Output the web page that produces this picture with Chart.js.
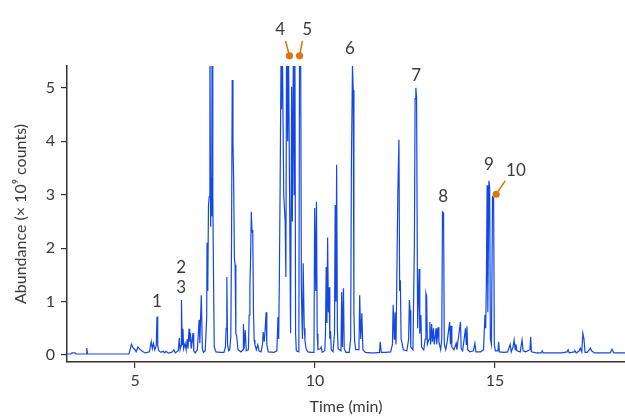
<!DOCTYPE html>
<html>
<head>
<meta charset="utf-8">
<script src="https://cdn.jsdelivr.net/npm/chart.js@4"></script>
<style>
html,body{margin:0;padding:0;background:#fff;}
#wrap{position:relative;width:625px;height:416px;}
</style>
</head>
<body>
<div id="wrap"><canvas id="c" width="625" height="416"></canvas></div>
<script>
// Retention time (min)
const times = [
3.11,3.22,3.25,3.33,3.36,3.64,3.66,3.68,4.83,4.87,4.90,4.94,5.00,5.03,5.08,5.13,5.20,5.28,5.40,5.45,
5.48,5.51,5.55,5.59,5.61,5.63,5.66,5.72,5.78,5.82,5.86,5.92,5.97,6.04,6.08,6.12,6.20,6.23,6.25,6.28,
6.29,6.31,6.33,6.35,6.39,6.42,6.45,6.47,6.50,6.52,6.54,6.56,6.61,6.63,6.67,6.73,6.78,6.80,6.84,6.87,
6.90,6.95,6.99,7.00,7.02,7.04,7.06,7.08,7.10,7.11,7.13,7.14,7.16,7.18,7.20,7.25,7.36,7.47,7.51,7.53,
7.55,7.57,7.60,7.63,7.66,7.68,7.70,7.72,7.74,7.76,7.78,7.80,7.82,7.86,7.94,8.00,8.01,8.03,8.06,8.09,
8.15,8.17,8.19,8.21,8.23,8.25,8.27,8.29,8.31,8.33,8.37,8.41,8.44,8.50,8.54,8.56,8.59,8.62,8.64,8.66,
8.70,8.86,8.94,8.97,8.99,9.01,9.03,9.06,9.07,9.09,9.13,9.17,9.19,9.21,9.24,9.26,9.29,9.32,9.35,9.37,
9.40,9.42,9.44,9.46,9.48,9.55,9.57,9.60,9.62,9.65,9.67,9.70,9.72,9.75,9.80,9.90,9.97,9.99,10.02,10.04,
10.06,10.08,10.15,10.17,10.20,10.27,10.29,10.31,10.33,10.35,10.37,10.39,10.41,10.43,10.45,10.50,10.54,10.56,10.58,10.60,
10.62,10.64,10.72,10.74,10.76,10.79,10.81,10.86,10.95,10.99,11.01,11.04,11.06,11.08,11.10,11.13,11.22,11.24,11.27,11.30,
11.33,11.40,11.53,11.67,11.79,11.81,11.84,11.95,12.10,12.15,12.17,12.20,12.22,12.25,12.30,12.33,12.35,12.37,12.39,12.42,
12.45,12.55,12.60,12.62,12.64,12.66,12.72,12.76,12.78,12.80,12.82,12.85,12.89,12.91,12.94,12.96,13.02,13.06,13.08,13.10,
13.12,13.17,13.19,13.21,13.24,13.26,13.29,13.31,13.34,13.36,13.38,13.42,13.44,13.49,13.52,13.54,13.57,13.59,13.63,13.67,
13.74,13.76,13.78,13.80,13.86,13.92,13.94,14.04,14.06,14.10,14.18,14.20,14.22,14.24,14.30,14.40,14.44,14.47,14.60,14.68,
14.72,14.74,14.76,14.78,14.80,14.83,14.85,14.87,14.90,14.93,14.96,14.98,15.01,15.08,15.10,15.12,15.25,15.35,15.42,15.45,
15.50,15.53,15.56,15.58,15.61,15.70,15.75,15.78,15.85,15.97,15.99,16.01,16.15,16.28,16.31,16.34,16.55,16.70,16.85,17.00,
17.03,17.06,17.20,17.22,17.26,17.34,17.37,17.41,17.44,17.47,17.50,17.56,17.62,17.65,17.68,17.72,17.76,17.90,18.20,18.25,
18.30,18.61
];
// Abundance (x 10^9 counts)
const abundance = [
0.02,0.02,0.04,0.04,0.02,0.02,0.13,0.02,0.02,0.12,0.20,0.14,0.10,0.06,0.15,0.11,0.07,0.04,0.06,0.25,
0.12,0.22,0.10,0.18,0.72,0.18,0.08,0.05,0.07,0.04,0.07,0.04,0.04,0.06,0.10,0.04,0.08,0.32,0.10,0.18,
1.03,0.20,0.49,0.12,0.22,0.10,0.30,0.12,0.49,0.25,0.41,0.12,0.41,0.08,0.04,0.10,0.66,0.22,1.12,0.12,
0.05,0.08,0.70,2.10,1.20,2.80,2.96,6.00,2.40,3.33,2.60,6.00,3.00,1.46,0.15,0.06,0.05,0.05,0.15,0.50,
1.46,0.20,0.08,0.10,0.35,2.10,5.15,4.00,3.22,1.80,1.69,0.40,0.37,0.10,0.06,0.10,0.58,0.12,0.47,0.08,
0.10,0.75,1.27,1.83,2.68,2.30,2.34,0.80,0.28,0.20,0.10,0.19,0.08,0.06,0.20,0.43,0.25,0.55,0.80,0.20,
0.06,0.05,0.08,0.71,0.30,1.50,3.15,6.00,4.60,6.00,3.00,2.50,1.46,6.00,4.00,6.00,3.24,0.41,5.02,2.50,
6.00,3.00,6.00,0.40,0.08,0.06,6.00,6.00,1.22,0.30,1.72,0.50,0.28,0.12,0.06,0.05,0.05,2.75,1.20,2.87,
0.40,0.10,0.12,0.15,0.05,0.08,0.40,1.65,0.60,2.20,0.80,1.27,0.30,0.45,0.10,0.06,0.40,2.81,1.00,3.56,
0.50,0.12,0.08,1.18,0.15,1.25,0.12,0.05,0.05,0.30,3.60,5.42,4.96,0.78,0.25,0.10,0.10,1.12,0.30,0.78,
0.10,0.05,0.04,0.04,0.05,0.25,0.05,0.05,0.06,0.20,0.94,0.30,0.80,0.20,3.05,4.03,1.20,1.40,0.30,0.22,
0.10,0.08,0.30,1.03,0.84,0.15,0.10,2.12,4.80,5.00,4.83,0.50,1.61,0.40,0.75,0.15,0.10,0.30,1.16,1.10,
0.20,0.30,0.62,0.20,0.58,0.25,0.50,0.20,0.35,0.50,0.20,0.52,0.25,0.10,0.30,2.68,2.66,0.20,0.10,0.25,
0.62,0.20,0.55,0.15,0.10,0.22,0.10,0.62,0.12,0.08,0.50,0.20,0.54,0.10,0.06,0.08,0.22,0.06,0.06,0.10,
0.75,0.50,1.40,3.18,0.80,3.26,3.13,0.30,0.20,2.96,2.94,0.20,0.08,0.08,0.25,0.06,0.05,0.06,0.20,0.06,
0.15,0.28,0.10,0.20,0.08,0.06,0.28,0.08,0.06,0.10,0.34,0.06,0.04,0.04,0.08,0.04,0.04,0.04,0.04,0.06,
0.10,0.04,0.06,0.08,0.04,0.08,0.13,0.06,0.41,0.30,0.05,0.05,0.10,0.13,0.08,0.06,0.04,0.04,0.04,0.11,
0.04,0.04
];
// Peak labels
const peakLabels = ['1','2','3','4','5','6','7','8','9','10'];
const peakLabelTimes = [5.61,6.28,6.28,9.03,9.78,10.97,12.81,13.56,14.83,15.58];
const peakLabelLevels = [1.01,1.63,1.27,6.09,6.09,5.73,5.24,2.96,3.56,3.45];
// Marked (off-scale / overlapping) peaks
const markerTimes = [9.29,9.57,15.03];
const markerLevels = [5.60,5.60,3.01];
const leaderFromTimes = [9.18,9.65,15.28];
const leaderFromLevels = [5.88,5.88,3.26];
const xTicks = [5,10,15];
const yTicks = [0,1,2,3,4,5];

const FONT = 'Lato, "Noto Sans", sans-serif';
const TXT = '#3a3a3a';
const BLUE = '#1447e6';
const ORANGE = '#dc7611';

const lineData = times.map((t,i)=>({x:t,y:abundance[i]}));
const markerData = markerTimes.map((t,i)=>({x:t,y:markerLevels[i]}));

const annot = {
  id:'annot',
  afterDatasetsDraw(chart){
    const {ctx, scales:{x,y}} = chart;
    ctx.save();
    // leader lines
    ctx.strokeStyle = ORANGE; ctx.lineWidth = 1.6;
    for(let i=0;i<markerTimes.length;i++){
      ctx.beginPath();
      ctx.moveTo(x.getPixelForValue(leaderFromTimes[i]), y.getPixelForValue(leaderFromLevels[i]));
      ctx.lineTo(x.getPixelForValue(markerTimes[i]), y.getPixelForValue(markerLevels[i]));
      ctx.stroke();
    }
    ctx.fillStyle = ORANGE;
    for(let i=0;i<markerTimes.length;i++){
      ctx.beginPath();
      ctx.arc(x.getPixelForValue(markerTimes[i]), y.getPixelForValue(markerLevels[i]), 3.6, 0, Math.PI*2);
      ctx.fill();
    }
    // labels
    ctx.fillStyle = TXT;
    ctx.font = '17px ' + FONT;
    ctx.textAlign = 'center'; ctx.textBaseline = 'middle';
    for(let i=0;i<peakLabels.length;i++){
      ctx.fillText(peakLabels[i], x.getPixelForValue(peakLabelTimes[i]), y.getPixelForValue(peakLabelLevels[i]));
    }
    // axis titles
    ctx.font = '16px ' + FONT;
    ctx.fillText('Time (min)', (x.left + x.right)/2, 407);
    ctx.translate(21, (y.top + y.bottom)/2);
    ctx.rotate(-Math.PI/2);
    ctx.fillText('Abundance (× 10⁹ counts)', 0, 0);
    ctx.restore();
  }
};

new Chart(document.getElementById('c'), {
  type:'line',
  data:{datasets:[
    {data:lineData, borderColor:BLUE, borderWidth:1.2, pointRadius:0, tension:0, fill:false}
  ]},
  options:{
    responsive:false, animation:false, devicePixelRatio:1,
    layout:{padding:{top:66,left:0,right:0,bottom:0}},
    plugins:{legend:{display:false}, tooltip:{enabled:false}, title:{display:false}},
    scales:{
      x:{type:'linear', min:3.11, max:18.61,
         afterFit(s){ s.height = 54; },
         afterBuildTicks(s){ s.ticks = xTicks.map(v=>({value:v})); },
         border:{display:true, color:'#333', width:1.5},
         grid:{drawOnChartArea:false, drawTicks:true, tickLength:6, color:'#333', lineWidth:1.2},
         ticks:{font:{family:FONT,size:16}, color:TXT, padding:3, maxRotation:0}},
      y:{type:'linear', min:-0.13, max:5.41,
         afterFit(s){ s.width = 67; },
         afterBuildTicks(s){ s.ticks = yTicks.map(v=>({value:v})); },
         border:{display:true, color:'#333', width:1.5},
         grid:{drawOnChartArea:false, drawTicks:true, tickLength:6, color:'#333', lineWidth:1.2},
         ticks:{font:{family:FONT,size:16}, color:TXT, padding:6}}
    }
  },
  plugins:[annot]
});
</script>
</body>
</html>
